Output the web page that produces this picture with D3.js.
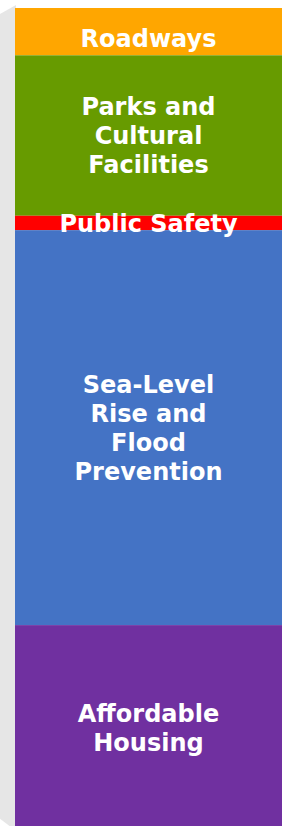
<!DOCTYPE html>
<html>
<head>
<meta charset="utf-8">
<script src="https://cdn.jsdelivr.net/npm/d3@7"></script>
<style>
  body { margin: 0; background: #ffffff; }
  svg { display: block; }
</style>
</head>
<body>
<div id="chart"></div>
<script>
// bond allocation, $ millions, top to bottom
var categories = ["Roadways", "Parks and Cultural Facilities", "Public Safety", "Sea-Level Rise and Flood Prevention", "Affordable Housing"];
var valeurs = [23, 78, 7, 192, 100];
var lignes = [["Roadways"], ["Parks and", "Cultural", "Facilities"], ["Public Safety"], ["Sea-Level", "Rise and", "Flood", "Prevention"], ["Affordable", "Housing"]];
var couleurs = ["#ffa600", "#679b00", "#ff0000", "#4473c5", "#7030a0"];

var width = 282, height = 826;
var gauche = 15, haut = 8, profondeur = 8;
var total = d3.sum(valeurs);

var svg = d3.select("#chart").append("svg").attr("width", width).attr("height", height);

var y = d3.scaleLinear().domain([0, total]).range([haut, haut + total * 2.057]);

var pile = [];
var cumul = 0;
for (var i = 0; i < valeurs.length; i++) {
    pile.push({ cat: categories[i], y0: cumul, y1: cumul + valeurs[i], lignes: lignes[i], couleur: couleurs[i] });
    cumul += valeurs[i];
}

// side face of the bar
svg.append("polygon")
    .attr("points", [[0, y(0) + 6], [gauche + 1, y(0) - 3], [gauche + 1, y(total)], [0, y(total) - 12]].join(" "))
    .style("fill", "#e6e6e6");

svg.selectAll("rect.seg")
    .data(pile)
    .enter()
    .append("rect")
    .attr("class", "seg")
    .attr("x", gauche)
    .attr("y", function(d) { return y(d.y0); })
    .attr("width", width - gauche)
    .attr("height", function(d) { return y(d.y1) - y(d.y0); })
    .style("fill", function(d) { return d.couleur; });

var lh = 29;
var cx = (gauche + width) / 2;
pile.forEach(function(d) {
    var mid = (y(d.y0) + y(d.y1)) / 2;
    mid = Math.max(mid, haut + 30);
    var t = svg.append("text")
        .attr("text-anchor", "middle")
        .style("font-family", "'DejaVu Sans', Verdana, sans-serif")
        .style("font-weight", "bold")
        .style("font-size", "24px")
        .style("fill", "#ffffff");
    var n = d.lignes.length;
    d.lignes.forEach(function(l, k) {
        t.append("tspan")
            .attr("x", cx)
            .attr("y", mid + (k - (n - 1) / 2) * lh)
            .attr("dy", "0.36em")
            .text(l);
    });
});
</script>
</body>
</html>
